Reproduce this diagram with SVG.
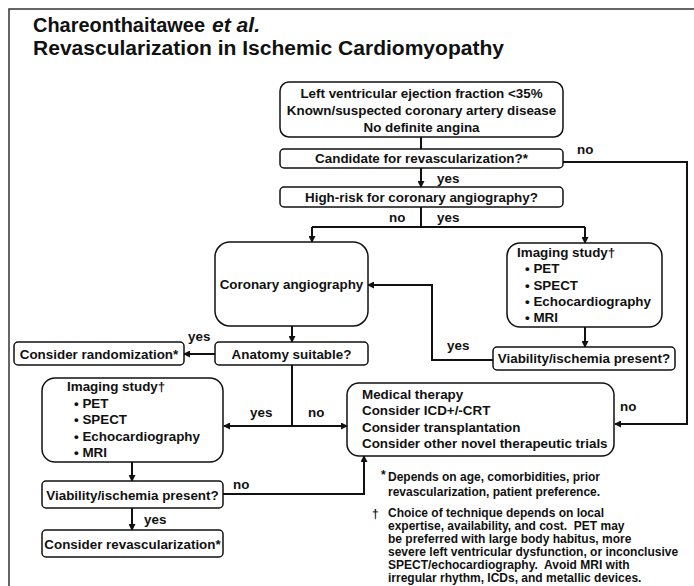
<svg xmlns="http://www.w3.org/2000/svg" width="694" height="586" viewBox="0 0 694 586">
<style>
text{font-family:"Liberation Sans",Arial,Helvetica,sans-serif;font-weight:bold;fill:#111;}
.t{font-size:13.4px;}
.c{text-anchor:middle;}
.f{font-size:12px;white-space:pre;}
.box{fill:#fff;stroke:#111;stroke-width:1.5;}
.ln{fill:none;stroke:#111;stroke-width:2;}
.ar{marker-end:url(#ah);}
.ttl{font-family:"Liberation Sans Narrow","Liberation Sans",Arial,sans-serif;font-size:20px;}
</style>
<defs>
<marker id="ah" markerWidth="7" markerHeight="7" refX="6" refY="3.5" orient="auto" markerUnits="userSpaceOnUse">
<path d="M0,0 L7,3.5 L0,7 z" fill="#111"/>
</marker>
<marker id="ahs" markerWidth="7" markerHeight="7" refX="1" refY="3.5" orient="auto" markerUnits="userSpaceOnUse">
<path d="M7,0 L0,3.5 L7,7 z" fill="#111"/>
</marker>
</defs>
<rect width="694" height="586" fill="#fff"/>
<path d="M9,586 V9 H694" fill="none" stroke="#333" stroke-width="1.5"/>
<g id="title">
<text class="ttl" x="33" y="32" textLength="172" lengthAdjust="spacingAndGlyphs">Chareonthaitawee</text>
<text class="ttl" x="212" y="32" textLength="48" lengthAdjust="spacingAndGlyphs" font-style="italic">et al.</text>
<text class="ttl" x="33" y="55" textLength="471" lengthAdjust="spacingAndGlyphs">Revascularization in Ischemic Cardiomyopathy</text>
</g>
<g id="connectors">
<path class="ln" d="M421,137 V149"/>
<path class="ln ar" d="M421,168 V187"/>
<path class="ln ar" d="M563,162 H687 V424 H615"/>
<path class="ln" d="M421,207 V227 M312,227 H585"/>
<path class="ln ar" d="M312,227 V242"/>
<path class="ln ar" d="M585,227 V243"/>
<path class="ln ar" d="M292,326 V342"/>
<path class="ln ar" d="M215,354 H184"/>
<path class="ln" d="M292,365 V426"/>
<path class="ln" d="M224,426 H347" marker-start="url(#ahs)" marker-end="url(#ah)"/>
<path class="ln ar" d="M132,462 V481"/>
<path class="ln ar" d="M223,494 H364 V456"/>
<path class="ln ar" d="M132,508 V530"/>
<path class="ln ar" d="M585,327 V347"/>
<path class="ln ar" d="M493,360 H432 V285 H368"/>
</g>
<g id="labels">
<text class="t" x="577" y="154">no</text>
<text class="t" x="437" y="183">yes</text>
<text class="t" x="389" y="222">no</text>
<text class="t" x="437" y="222">yes</text>
<text class="t" x="188" y="341">yes</text>
<text class="t" x="250" y="417">yes</text>
<text class="t" x="308" y="417">no</text>
<text class="t" x="233" y="489">no</text>
<text class="t" x="144" y="524">yes</text>
<text class="t" x="447" y="350">yes</text>
<text class="t" x="620" y="411">no</text>
</g>
<g id="start">
<rect class="box" x="280" y="82" width="283" height="55" rx="9"/>
<text class="t c" x="421.5" y="98">Left ventricular ejection fraction &lt;35%</text>
<text class="t c" x="421.5" y="115">Known/suspected coronary artery disease</text>
<text class="t c" x="421.5" y="132">No definite angina</text>
</g>
<g id="candidate">
<rect class="box" x="280" y="149" width="283" height="19" rx="4"/>
<text class="t c" x="421.5" y="163">Candidate for revascularization?*</text>
</g>
<g id="highrisk">
<rect class="box" x="280" y="187" width="283" height="20" rx="4"/>
<text class="t c" x="421.5" y="202">High-risk for coronary angiography?</text>
</g>
<g id="angiography">
<rect class="box" x="215" y="242" width="153" height="84" rx="15"/>
<text class="t c" x="291.5" y="289">Coronary angiography</text>
</g>
<g id="imaging-right">
<rect class="box" x="507" y="243" width="155" height="84" rx="13"/>
<text class="t" x="517" y="257">Imaging study†</text>
<text class="t" x="525" y="273">• PET</text>
<text class="t" x="525" y="290">• SPECT</text>
<text class="t" x="525" y="306">• Echocardiography</text>
<text class="t" x="525" y="322">• MRI</text>
</g>
<g id="viability-right">
<rect class="box" x="493" y="347" width="182" height="23" rx="4"/>
<text class="t c" x="584" y="363">Viability/ischemia present?</text>
</g>
<g id="anatomy">
<rect class="box" x="215" y="342" width="153" height="23" rx="4"/>
<text class="t c" x="291.5" y="359">Anatomy suitable?</text>
</g>
<g id="randomization">
<rect class="box" x="14" y="342" width="170" height="23" rx="4"/>
<text class="t c" x="99" y="359">Consider randomization*</text>
</g>
<g id="imaging-left">
<rect class="box" x="42" y="378" width="181" height="84" rx="13"/>
<text class="t" x="67" y="391">Imaging study†</text>
<text class="t" x="74" y="408">• PET</text>
<text class="t" x="74" y="424">• SPECT</text>
<text class="t" x="74" y="441">• Echocardiography</text>
<text class="t" x="74" y="457">• MRI</text>
</g>
<g id="medical">
<rect class="box" x="347" y="383" width="267" height="73" rx="12"/>
<text class="t" x="362" y="399">Medical therapy</text>
<text class="t" x="362" y="415">Consider ICD+/-CRT</text>
<text class="t" x="362" y="432">Consider transplantation</text>
<text class="t" x="362" y="448">Consider other novel therapeutic trials</text>
</g>
<g id="viability-left">
<rect class="box" x="42" y="481" width="181" height="27" rx="4"/>
<text class="t c" x="132.5" y="500">Viability/ischemia present?</text>
</g>
<g id="revascularization">
<rect class="box" x="42" y="530" width="181" height="27" rx="4"/>
<text class="t c" x="132.5" y="549">Consider revascularization*</text>
</g>
<g id="footnotes">
<text class="f" x="381" y="479">*</text>
<text class="f" x="388" y="481">Depends on age, comorbidities, prior</text>
<text class="f" x="388" y="496">revascularization, patient preference.</text>
<text class="f" x="372" y="518" font-size="15">†</text>
<text class="f" x="388" y="517">Choice of technique depends on local</text>
<text class="f" x="388" y="530">expertise, availability, and cost.  PET may</text>
<text class="f" x="388" y="543">be preferred with large body habitus, more</text>
<text class="f" x="388" y="556">severe left ventricular dysfunction, or inconclusive</text>
<text class="f" x="388" y="569">SPECT/echocardiography.  Avoid MRI with</text>
<text class="f" x="388" y="582">irregular rhythm, ICDs, and metallic devices.</text>
</g>
</svg>
